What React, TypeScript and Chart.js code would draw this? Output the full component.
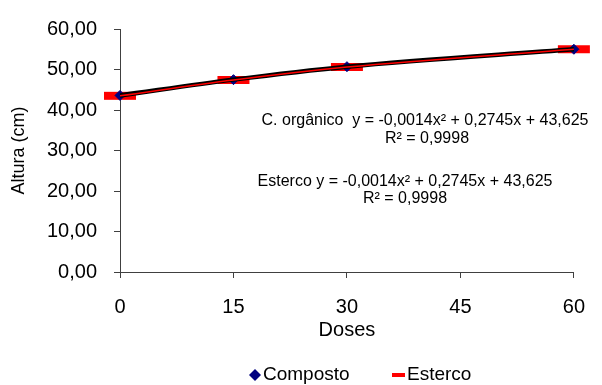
import React, { useEffect, useRef } from "react";
import { Chart, registerables } from "chart.js";
Chart.register(...registerables);

const doses = [0, 15, 30, 60];
const composto = [43.6, 47.5, 50.7, 55.0];
const esterco = [43.5, 47.4, 50.6, 55.0];
const xTickValues = [0, 15, 30, 45, 60];
const yTickValues = [0, 10, 20, 30, 40, 50, 60];
const seriesNames = ["Composto", "Esterco"];
const eqOrganico = "C. orgânico  y = -0,0014x² + 0,2745x + 43,625";
const eqEsterco = "Esterco y = -0,0014x² + 0,2745x + 43,625";
const r2Text = "R² = 0,9998";
const xTitle = "Doses";
const yTitle = "Altura (cm)";

const FONT = "'Liberation Sans', Arial, sans-serif";
const NAVY = "#000080";
const RED = "#FF0000";
const AXIS = "#404040";

const annotationPlugin = {
  id: "annotations",
  afterDraw(chart: any) {
    const ctx = chart.ctx as CanvasRenderingContext2D;
    ctx.save();
    ctx.fillStyle = "#000";
    ctx.textBaseline = "middle";
    ctx.textAlign = "center";
    ctx.font = `16px ${FONT}`;
    ctx.fillText(eqOrganico, 425, 121);
    ctx.fillText(r2Text, 427, 139);
    ctx.fillText(eqEsterco, 405, 182);
    ctx.fillText(r2Text, 405, 199);

    // legend
    const ly = 375;
    ctx.fillStyle = NAVY;
    ctx.beginPath();
    ctx.moveTo(255 - 6, ly);
    ctx.lineTo(255, ly - 6);
    ctx.lineTo(255 + 6, ly);
    ctx.lineTo(255, ly + 6);
    ctx.closePath();
    ctx.fill();
    ctx.fillStyle = RED;
    ctx.fillRect(392, ly - 2, 13, 4);
    ctx.fillStyle = "#000";
    ctx.textAlign = "left";
    ctx.font = `19px ${FONT}`;
    ctx.fillText(seriesNames[0], 263, ly);
    ctx.fillText(seriesNames[1], 407, ly);
    ctx.restore();
  },
};

export default function App() {
  const ref = useRef<HTMLCanvasElement | null>(null);
  useEffect(() => {
    if (!ref.current) return;
    const toPts = (ys: number[]) => doses.map((x, i) => ({ x, y: ys[i] }));
    const chart = new Chart(ref.current, {
      type: "line",
      data: {
        datasets: [
          {
            label: "Esterco trend",
            data: toPts(esterco),
            borderColor: RED,
            borderWidth: 1.5,
            pointRadius: 0,
            cubicInterpolationMode: "monotone",
            fill: false,
            order: 0,
          },
          {
            label: "Composto trend",
            data: toPts(composto),
            borderColor: "#000",
            borderWidth: 4.5,
            pointRadius: 0,
            cubicInterpolationMode: "monotone",
            fill: false,
            order: 1,
          },
          {
            label: seriesNames[0],
            data: toPts(composto),
            showLine: false,
            pointStyle: "rectRot",
            pointRadius: 5,
            pointBackgroundColor: NAVY,
            pointBorderColor: NAVY,
            pointBorderWidth: 1,
            clip: false,
            order: 2,
          },
          {
            label: seriesNames[1],
            data: toPts(esterco),
            showLine: false,
            pointStyle: "line",
            pointRadius: 16,
            pointBorderColor: RED,
            pointBorderWidth: 8,
            clip: false,
            order: 3,
          },
        ] as any,
      },
      options: {
        animation: false,
        responsive: true,
        maintainAspectRatio: false,
        layout: { padding: { top: 21, right: 15, bottom: 43, left: 0 } },
        plugins: { legend: { display: false }, tooltip: { enabled: false } },
        scales: {
          x: {
            type: "linear",
            min: 0,
            max: 60,
            afterBuildTicks: (s: any) => {
              s.ticks = xTickValues.map((v) => ({ value: v }));
            },
            afterFit: (s: any) => {
              s.height = 70;
            },
            ticks: {
              color: "#000",
              font: { family: FONT, size: 20 },
              padding: 17,
              maxRotation: 0,
              callback: (v: any) => String(v),
            },
            grid: { drawOnChartArea: false, tickLength: 6, color: AXIS, lineWidth: 1 },
            border: { color: AXIS, width: 1 },
            title: {
              display: true,
              text: xTitle,
              color: "#000",
              font: { family: FONT, size: 20 },
              padding: { top: 0, bottom: 0 },
            },
          },
          y: {
            type: "linear",
            min: 0,
            max: 60,
            afterBuildTicks: (s: any) => {
              s.ticks = yTickValues.map((v) => ({ value: v }));
            },
            afterFit: (s: any) => {
              s.width = 120;
            },
            ticks: {
              color: "#000",
              font: { family: FONT, size: 20 },
              padding: 17,
              callback: (v: any) => Number(v).toFixed(2).replace(".", ","),
            },
            grid: { drawOnChartArea: false, tickLength: 6, color: AXIS, lineWidth: 1 },
            border: { color: AXIS, width: 1 },
            title: {
              display: true,
              text: yTitle,
              color: "#000",
              font: { family: FONT, size: 18 },
              padding: { top: 8, bottom: 0 },
            },
          },
        },
      } as any,
      plugins: [annotationPlugin],
    });
    return () => chart.destroy();
  }, []);
  return (
    <div style={{ position: "absolute", left: 0, top: 0, width: 602, height: 385, background: "#fff" }}>
      <canvas ref={ref} />
    </div>
  );
}
